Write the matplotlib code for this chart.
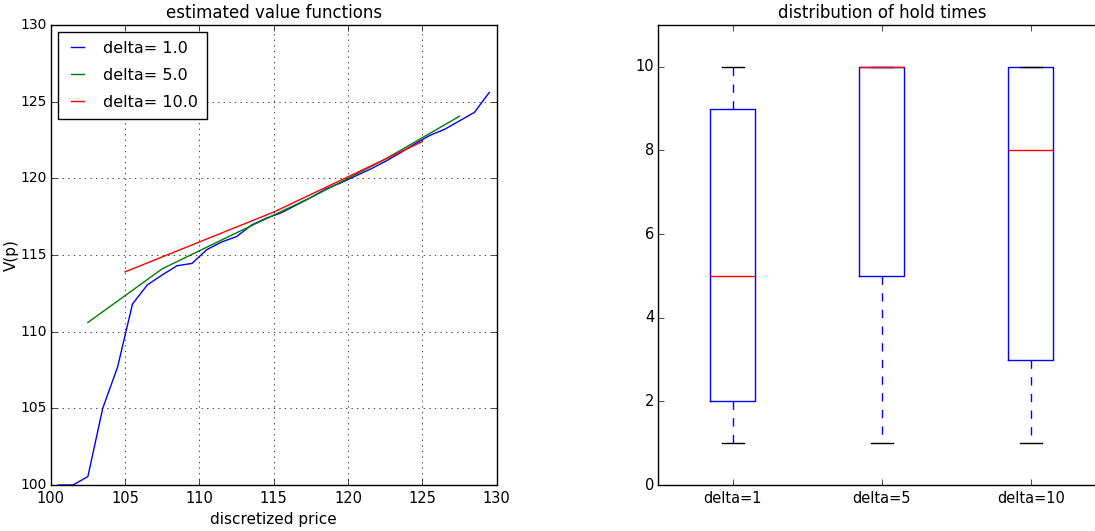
import numpy as np
import matplotlib
matplotlib.use("Agg")
import matplotlib.pyplot as plt

# estimated value functions, one curve per delta
price_d1 = [100.5, 101.5, 102.5, 103.5, 104.5, 105.5, 106.5, 107.5, 108.5, 109.5,
            110.5, 111.5, 112.5, 113.5, 114.5, 115.5, 116.5, 117.5, 118.5, 119.5,
            120.5, 121.5, 122.5, 123.5, 124.5, 125.5, 126.5, 127.5, 128.5, 129.5]
value_d1 = [100.0, 100.0, 100.55, 105.0, 107.7, 111.8, 113.05, 113.7, 114.3, 114.45,
            115.35, 115.85, 116.2, 116.95, 117.4, 117.75, 118.25, 118.75, 119.3, 119.7,
            120.15, 120.6, 121.1, 121.65, 122.25, 122.8, 123.2, 123.75, 124.3, 125.6]

price_d5 = [102.5, 107.5, 112.5, 117.5, 122.5, 127.5]
value_d5 = [110.6, 114.1, 116.45, 118.75, 121.25, 124.05]

price_d10 = [105.0, 115.0, 125.0]
value_d10 = [113.9, 117.8, 122.4]

curve_labels = ["delta= 1.0", "delta= 5.0", "delta= 10.0"]

# hold time box statistics
box_labels = ["delta=1", "delta=5", "delta=10"]
hold_low = [1, 1, 1]
hold_q1 = [2, 5, 3]
hold_med = [5, 10, 8]
hold_q3 = [9, 10, 10]
hold_high = [10, 10, 10]

plt.style.use("classic")
plt.rcParams["font.family"] = "DejaVu Sans"

W, H = 1095, 531
fig = plt.figure(figsize=(W / 100, H / 100), dpi=100)

# left panel
ax1 = fig.add_axes([50.7 / W, 46 / H, 446 / W, 460 / H])
ax1.plot(price_d1, value_d1, "b-", label=curve_labels[0])
ax1.plot(price_d5, value_d5, "g-", label=curve_labels[1])
ax1.plot(price_d10, value_d10, "r-", label=curve_labels[2])
ax1.set_xlim(100, 130)
ax1.set_ylim(100, 130)
ax1.set_xticks(np.arange(100, 131, 5))
ax1.set_yticks(np.arange(100, 131, 5))
ax1.grid(True)
ax1.set_title("estimated value functions", fontsize=12)
ax1.set_xlabel("discretized price", fontsize=11)
ax1.set_ylabel("V(p)", fontsize=11)
ax1.xaxis.set_label_coords(0.5, -0.058)
ax1.yaxis.set_label_coords(-0.072, 0.5)
ax1.tick_params(labelsize=10.5)
ax1.tick_params(axis="y", labelsize=10, pad=3)
ax1.legend(loc="upper left", fontsize=11.5, handlelength=1.4,
           handletextpad=0.9, borderaxespad=0.45,
           borderpad=0.55, labelspacing=0.75)

# right panel (runs past the right edge of the picture)
ax2 = fig.add_axes([658.3 / W, 46 / H, 447 / W, 460 / H])
stats = []
for i in range(len(box_labels)):
    stats.append({"label": box_labels[i], "whislo": hold_low[i], "q1": hold_q1[i],
                  "med": hold_med[i], "q3": hold_q3[i], "whishi": hold_high[i],
                  "fliers": []})
ax2.bxp(stats, showfliers=False)
ax2.set_ylim(0, 11)
ax2.set_yticks(np.arange(0, 11, 2))
ax2.set_title("distribution of hold times", fontsize=12)
ax2.tick_params(labelsize=10.5)
ax2.tick_params(axis="y", pad=3)

fig.savefig("out.png", dpi=100)
